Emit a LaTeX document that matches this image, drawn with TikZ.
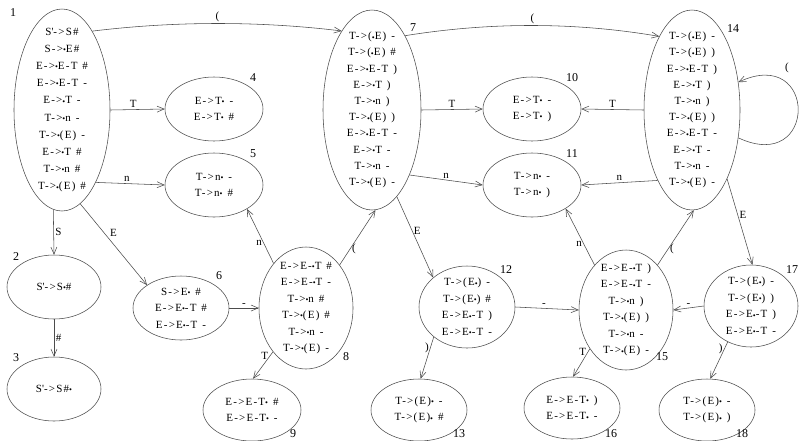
\documentclass[tikz,border=0pt]{standalone}
\usepackage{fontspec}
\usepackage{graphicx}
\setmainfont{Liberation Serif}
\newfontfamily\itf[LetterSpace=11]{Liberation Serif}
\usetikzlibrary{shapes.geometric,arrows.meta}
\newcommand\dt{\raisebox{-0.05ex}{\scalebox{0.75}{•}}}
\newcommand\gp{\hspace{0.45em}}
\newcommand\pr{\textquotesingle}
\begin{document}
\begin{tikzpicture}[x=1pt,y=-1pt,
  ell/.style={ellipse, draw=black!70, line width=0.55pt, inner sep=0pt},
  txt/.style={font=\itf\fontsize{11}{16.5}\selectfont, align=center, inner sep=0pt},
  num/.style={font=\fontsize{12}{12}\selectfont, inner sep=0pt},
  lab/.style={font=\fontsize{11}{11}\selectfont, inner sep=1.5pt},
  arr/.style={draw=black!70, line width=0.55pt, -{Straight Barb[length=7pt,width=6pt]}}]
\useasboundingbox (0,0) rectangle (799,440);
\fill[white] (0,0) rectangle (799,440);

% ellipses
\node[ell, minimum width=96pt, minimum height=202pt] (n1) at (62,110) {};
\node[ell, minimum width=94pt, minimum height=64pt] (n2) at (54,287) {};
\node[ell, minimum width=94pt, minimum height=64pt] (n3) at (54,389) {};
\node[ell, minimum width=98pt, minimum height=64pt] (n4) at (214,109) {};
\node[ell, minimum width=98pt, minimum height=64pt] (n5) at (214,185) {};
\node[ell, minimum width=96pt, minimum height=64pt] (n6) at (181,308) {};
\node[ell, minimum width=98pt, minimum height=200pt] (n7) at (372,110) {};
\node[ell, minimum width=94pt, minimum height=122pt] (n8) at (306,308) {};
\node[ell, minimum width=98pt, minimum height=62pt] (n9) at (252,410) {};
\node[ell, minimum width=98pt, minimum height=64pt] (n10) at (532,109) {};
\node[ell, minimum width=98pt, minimum height=64pt] (n11) at (532,185) {};
\node[ell, minimum width=96pt, minimum height=82pt] (n12) at (467,307) {};
\node[ell, minimum width=96pt, minimum height=62pt] (n13) at (419,410) {};
\node[ell, minimum width=96pt, minimum height=200pt] (n14) at (692,110) {};
\node[ell, minimum width=94pt, minimum height=120pt] (n15) at (626,310) {};
\node[ell, minimum width=96pt, minimum height=62pt] (n16) at (572,408) {};
\node[ell, minimum width=94pt, minimum height=82pt] (n17) at (751,306) {};
\node[ell, minimum width=96pt, minimum height=62pt] (n18) at (707,410) {};

% texts
\node[txt, font=\itf\fontsize{11}{17.2}\selectfont] (t1) at (n1.center) {S\pr->S\#\\S->\dt E\#\\E->\dt E-T\gp\#\\E->\dt E-T\gp-\\E->\dt T\gp-\\T->\dt n\gp-\\T->\dt(E)\gp-\\E->\dt T\gp\#\\T->\dt n\gp\#\\T->\dt(E)\gp\#};
\node[txt] (t2) at (n2.center) {S\pr->S\dt\#};
\node[txt] (t3) at (n3.center) {S\pr->S\#\dt};
\node[txt] (t4) at (n4.center) {E->T\dt\gp-\\E->T\dt\gp\#};
\node[txt] (t5) at (n5.center) {T->n\dt\gp-\\T->n\dt\gp\#};
\node[txt] (t6) at (n6.center) {S->E\dt\gp\#\\E->E\dt-T\gp\#\\E->E\dt-T\gp-};
\node[txt, font=\itf\fontsize{11}{16.2}\selectfont] (t7) at (n7.center) {T->(\dt E)\gp-\\T->(\dt E)\gp\#\\E->\dt E-T\gp)\\E->\dt T\gp)\\T->\dt n\gp)\\T->\dt(E)\gp)\\E->\dt E-T\gp-\\E->\dt T\gp-\\T->\dt n\gp-\\T->\dt(E)\gp-};
\node[txt] (t8) at (n8.center) {E->E-\dt T\gp\#\\E->E-\dt T\gp-\\T->\dt n\gp\#\\T->\dt(E)\gp\#\\T->\dt n\gp-\\T->\dt(E)\gp-};
\node[txt] (t9) at (n9.center) {E->E-T\dt\gp\#\\E->E-T\dt\gp-};
\node[txt] (t10) at (n10.center) {E->T\dt\gp-\\E->T\dt\gp)};
\node[txt] (t11) at (n11.center) {T->n\dt\gp-\\T->n\dt\gp)};
\node[txt] (t12) at (n12.center) {T->(E\dt)\gp-\\T->(E\dt)\gp\#\\E->E\dt-T\gp)\\E->E\dt-T\gp-};
\node[txt] (t13) at (n13.center) {T->(E)\dt\gp-\\T->(E)\dt\gp\#};
\node[txt, font=\itf\fontsize{11}{16.2}\selectfont] (t14) at (n14.center) {T->(\dt E)\gp-\\T->(\dt E)\gp)\\E->\dt E-T\gp)\\E->\dt T\gp)\\T->\dt n\gp)\\T->\dt(E)\gp)\\E->\dt E-T\gp-\\E->\dt T\gp-\\T->\dt n\gp-\\T->\dt(E)\gp-};
\node[txt] (t15) at (n15.center) {E->E-\dt T\gp)\\E->E-\dt T\gp-\\T->\dt n\gp)\\T->\dt(E)\gp)\\T->\dt n\gp-\\T->\dt(E)\gp-};
\node[txt] (t16) at (n16.center) {E->E-T\dt\gp)\\E->E-T\dt\gp-};
\node[txt] (t17) at (n17.center) {T->(E\dt)\gp-\\T->(E\dt)\gp)\\E->E\dt-T\gp)\\E->E\dt-T\gp-};
\node[txt] (t18) at (n18.center) {T->(E)\dt\gp-\\T->(E)\dt\gp)};

% state numbers
\node[num] (l1) at (13,13) {1};
\node[num] (l2) at (16,257) {2};
\node[num] (l3) at (16,358) {3};
\node[num] (l4) at (253,78) {4};
\node[num] (l5) at (253,154) {5};
\node[num] (l6) at (219,276) {6};
\node[num] (l7) at (413,28) {7};
\node[num] (l8) at (346,357) {8};
\node[num] (l9) at (293,434) {9};
\node[num] (l10) at (572,78) {10};
\node[num] (l11) at (572,154) {11};
\node[num] (l12) at (506,270) {12};
\node[num] (l13) at (459,434) {13};
\node[num] (l14) at (733,29) {14};
\node[num] (l15) at (662,357) {15};
\node[num] (l16) at (611,434) {16};
\node[num] (l17) at (792,270) {17};
\node[num] (l18) at (742,434) {18};

% transitions
\draw[arr] (n1.69) .. controls (175,21) and (260,21) .. node[lab, above] (e1) {(} (n7.111);
\draw[arr] (n7.66) .. controls (490,22) and (575,22) .. node[lab, above] (e2) {(} (n14.114);
\draw[arr] (n1.east) -- node[lab, above, pos=0.42] (e3) {T} (n4.west);
\draw[arr] (n1.-65) -- node[lab, above, pos=0.45] (e4) {n} (n5.west);
\draw[arr] (n1.-95) -- node[lab, right, pos=0.5] (e5) {S} (n2.north);
\draw[arr] (n1.-79) -- node[lab, above right, pos=0.42] (e6) {E} (n6.146);
\draw[arr] (n2.south) -- node[lab, right, pos=0.5] (e7) {\#} (n3.north);
\draw[arr] (n6.east) -- node[lab, above, pos=0.5] (e8) {-} (n8.west);
\draw[arr] (n8.126) -- node[lab, left, pos=0.37] (e9) {n} (n5.-36);
\draw[arr] (n8.52) -- node[lab, right, pos=0.3] (e10) {(} (n7.-88);
\draw[arr] (n8.-127) -- node[lab, left, pos=0.15] (e11) {T} (n9.88);
\draw[arr] (n7.east) -- node[lab, above, pos=0.5] (e12) {T} (n10.west);
\draw[arr] (n7.-60) -- node[lab, above, pos=0.5] (e13) {n} (n11.west);
\draw[arr] (n7.-74) -- node[lab, right, pos=0.42] (e14) {E} (n12.139);
\draw[arr] (n12.east) -- node[lab, above, pos=0.45] (e15) {-} (n15.west);
\draw[arr] (n12.-138) -- node[lab, left, pos=0.25] (e16) {)} (n13.87);
\draw[arr] (n14.west) -- node[lab, above, pos=0.5] (e17) {T} (n10.east);
\draw[arr] (n14.-116) -- node[lab, above, pos=0.5] (e18) {n} (n11.east);
\draw[arr] (n14.-31) .. controls (818,175) and (818,45) .. (n14.31);
\node[lab] (e19) at (787,68) {(};
\draw[arr] (n14.-63) -- node[lab, right, pos=0.42] (e20) {E} (n17.88);
\draw[arr] (n15.125) -- node[lab, left, pos=0.38] (e21) {n} (n11.-35);
\draw[arr] (n15.55) -- node[lab, right, pos=0.3] (e22) {(} (n14.-89);
\draw[arr] (n15.-133) -- node[lab, left, pos=0.12] (e23) {T} (n16.88);
\draw[arr] (n17.west) -- node[lab, above, pos=0.5] (e24) {-} (n15.east);
\draw[arr] (n17.-123) -- node[lab, left, pos=0.2] (e25) {)} (n18.84);
\end{tikzpicture}
\end{document}
